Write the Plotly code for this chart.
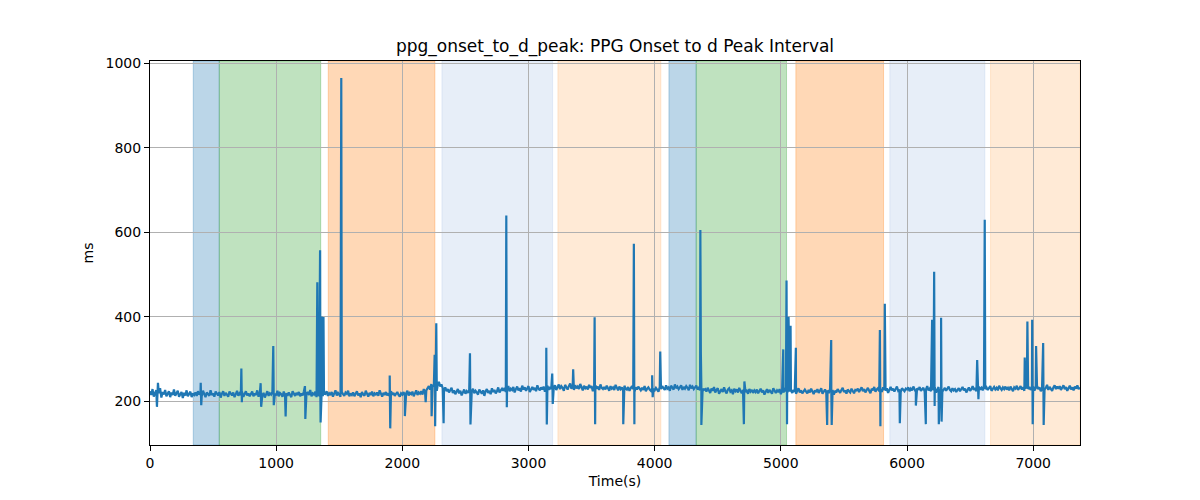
import plotly.graph_objects as go

# ---- data ----
base_step = 10  # seconds between baseline samples
base_v = [
    # 0-390
    224, 215, 229, 211, 220, 226, 213, 219, 231, 209,
    222, 216, 227, 212, 218, 224, 210, 221, 215, 228,
    213, 219, 225, 211, 217, 222, 208, 220, 214, 226,
    212, 218, 223, 210, 219, 215, 221, 213, 224, 216,
    # 400-790
    220, 212, 225, 216, 210, 221, 218, 213, 226, 215,
    219, 211, 223, 217, 214, 222, 209, 218, 224, 213,
    220, 216, 211, 223, 218, 214, 221, 210, 217, 225,
    213, 219, 215, 222, 211, 218, 224, 214, 219, 212,
    # 800-1190
    217, 223, 212, 219, 215, 226, 211, 218, 221, 214,
    220, 209, 217, 224, 213, 219, 216, 222, 210, 218,
    214, 225, 212, 220, 217, 211, 223, 215, 219, 213,
    221, 216, 210, 224, 218, 213, 220, 215, 222, 212,
    # 1200-1590
    219, 214, 224, 211, 218, 222, 215, 227, 212, 219,
    216, 223, 210, 220, 214, 225, 217, 212, 221, 218,
    224, 213, 219, 215, 222, 211, 218, 226, 214, 220,
    216, 211, 223, 217, 213, 221, 218, 225, 212, 219,
    # 1600-1990
    215, 221, 212, 218, 224, 214, 219, 210, 222, 216,
    213, 225, 218, 211, 220, 215, 223, 212, 219, 216,
    221, 213, 226, 217, 211, 220, 215, 222, 214, 219,
    212, 224, 216, 220, 213, 218, 222, 215, 211, 219,
    # 2000-2390
    216, 222, 213, 219, 225, 214, 220, 217, 223, 212,
    219, 226, 215, 221, 218, 224, 216, 229, 221, 226,
    230, 236, 228, 241, 234, 239, 244, 232, 238, 246,
    235, 240, 231, 226, 233, 224, 229, 221, 227, 232,
    # 2400-2790
    220, 226, 217, 223, 229, 219, 225, 214, 222, 228,
    218, 224, 220, 227, 215, 223, 230, 219, 225, 221,
    216, 228, 222, 218, 226, 213, 224, 229, 220, 225,
    217, 231, 222, 227, 219, 224, 233, 221, 226, 230,
    # 2800-3190
    225, 232, 222, 228, 236, 224, 230, 227, 234, 221,
    229, 235, 226, 231, 223, 237, 228, 233, 225, 230,
    236, 222, 229, 234, 227, 232, 224, 238, 230, 226,
    233, 228, 235, 223, 231, 237, 227, 234, 229, 236,
    # 3200-3590
    231, 238, 227, 234, 240, 229, 236, 232, 225, 239,
    233, 228, 236, 242, 230, 234, 227, 238, 231, 235,
    229, 241, 233, 226, 237, 231, 235, 228, 239, 232,
    236, 224, 233, 238, 230, 235, 227, 240, 232, 229,
    # 3600-3990
    234, 228, 237, 231, 225, 236, 230, 233, 227, 239,
    232, 226, 235, 229, 233, 224, 237, 230, 228, 234,
    225, 231, 236, 229, 222, 233, 228, 235, 230, 226,
    232, 227, 236, 224, 230, 233, 228, 225, 231, 229,
    # 4000-4390
    226, 232, 228, 223, 234, 229, 236, 231, 227, 238,
    230, 233, 225, 237, 232, 228, 240, 231, 235, 229,
    233, 238, 227, 234, 230, 236, 232, 226, 239, 231,
    235, 229, 233, 237, 228, 232, 226, 234, 230, 227,
    # 4400-4790
    229, 223, 232, 226, 220, 230, 225, 234, 221, 227,
    231, 218, 226, 229, 222, 233, 224, 219, 228, 231,
    223, 226, 217, 230, 224, 228, 221, 232, 225, 219,
    227, 230, 222, 225, 218, 229, 223, 227, 220, 226,
    # 4800-5190
    222, 228, 219, 225, 230, 221, 226, 216, 224, 229,
    220, 227, 223, 218, 231, 224, 220, 226, 222, 229,
    217, 225, 221, 228, 224, 219, 230, 223, 226, 220,
    227, 222, 218, 225, 231, 221, 226, 219, 224, 228,
    # 5200-5590
    223, 219, 227, 221, 230, 224, 217, 226, 222, 229,
    220, 225, 231, 218, 224, 228, 221, 226, 219, 230,
    223, 227, 216, 225, 221, 229, 224, 220, 227, 232,
    222, 226, 218, 228, 224, 221, 230, 225, 219, 227,
    # 5600-5990
    226, 230, 222, 228, 233, 224, 229, 221, 227, 232,
    225, 219, 230, 226, 234, 223, 228, 231, 224, 229,
    222, 233, 227, 225, 231, 220, 228, 234, 226, 230,
    223, 229, 235, 225, 228, 222, 231, 227, 224, 230,
    # 6000-6390
    228, 233, 224, 230, 226, 235, 229, 222, 231, 227,
    234, 225, 229, 232, 223, 228, 236, 226, 230, 224,
    231, 227, 233, 221, 229, 234, 226, 230, 223, 228,
    232, 225, 229, 235, 227, 224, 231, 226, 229, 222,
    # 6400-6790
    227, 231, 224, 229, 234, 226, 230, 221, 228, 233,
    225, 229, 236, 227, 231, 224, 230, 235, 228, 232,
    226, 238, 229, 233, 227, 231, 236, 225, 230, 234,
    228, 232, 226, 237, 231, 227, 233, 229, 235, 228,
    # 6800-7190
    232, 226, 235, 229, 224, 233, 230, 237, 227, 231,
    236, 228, 233, 225, 230, 238, 229, 234, 227, 232,
    235, 226, 231, 237, 229, 233, 224, 230, 236, 228,
    232, 239, 227, 234, 230, 225, 233, 238, 229, 235,
    # 7200-7370
    230, 236, 227, 233, 238, 229, 234, 225, 231, 237,
    228, 233, 226, 235, 230, 238, 229, 233,
]
base_t = [i * base_step for i in range(len(base_v))]

spike_t = [55, 63, 402, 406, 724, 728, 877, 881, 977, 981, 1075, 1228, 1231,
           1326, 1330, 1348, 1352, 1360, 1366, 1375, 1379, 1516, 1520,
           1900, 1904, 2020, 2185, 2232, 2256, 2260, 2269, 2273, 2327,
           2536, 2540, 2824, 2828, 3141, 3145, 3188, 3192, 3354, 3524, 3528,
           3751, 3835, 3839, 3980, 3984, 4044, 4362, 4366, 4370, 4707, 4711,
           5019, 5045, 5049, 5061, 5077, 5119, 5367, 5399, 5403,
           5782, 5785, 5789, 5820, 5824, 5943, 6070, 6149, 6199, 6215, 6219,
           6252, 6270, 6274, 6556, 6566, 6616, 6933, 6954, 6992, 6996,
           7023, 7079, 7083]
spike_v = [187, 244, 244, 191, 278, 198, 243, 187, 331, 191, 164, 236, 158,
           482, 215, 558, 150, 401, 230, 400, 215, 966, 222,
           261, 136, 165, 198, 165, 310, 141, 385, 225, 148,
           314, 145, 640, 186, 327, 145, 266, 194, 276, 399, 146,
           146, 573, 146, 262, 210, 318, 606, 314, 144, 146, 247,
           323, 486, 146, 400, 379, 327, 144, 345, 144,
           289, 369, 141, 298, 431, 148, 190, 146, 393, 507, 189,
           146, 398, 152, 298, 205, 630, 304, 389, 393, 146,
           331, 338, 144]

# stage shading: (start, end, colour)
span_start = [343, 549, 1413, 2314, 3233, 4113, 4329, 5119, 5864, 6662]
span_end = [549, 1353, 2258, 3191, 4049, 4329, 5045, 5814, 6617, 7371]
span_color = ["rgba(31,119,180,0.3)", "rgba(44,160,44,0.3)", "rgba(255,127,14,0.3)",
              "rgba(174,199,232,0.3)", "rgba(255,187,120,0.3)",
              "rgba(31,119,180,0.3)", "rgba(44,160,44,0.3)", "rgba(255,127,14,0.3)",
              "rgba(174,199,232,0.3)", "rgba(255,187,120,0.3)"]

x_ticks = [0, 1000, 2000, 3000, 4000, 5000, 6000, 7000]
y_ticks = [200, 400, 600, 800, 1000]

# merge baseline and spike samples in time order
pairs = sorted(zip(base_t + spike_t, base_v + spike_v), key=lambda p: p[0])
t_all = [p[0] for p in pairs]
v_all = [p[1] for p in pairs]

fig = go.Figure()
fig.add_trace(go.Scatter(x=t_all, y=v_all, mode="lines",
                         line=dict(color="#1f77b4", width=2.2), showlegend=False))

for s, e, c in zip(span_start, span_end, span_color):
    fig.add_vrect(x0=s, x1=e, fillcolor=c, line=dict(color=c, width=1), layer="below")

font = "DejaVu Sans, Verdana, sans-serif"
fig.update_layout(
    width=1200, height=500,
    margin=dict(l=150, r=120, t=61, b=55),
    paper_bgcolor="white", plot_bgcolor="white",
    font=dict(family=font, size=14, color="black"),
    title=dict(text="ppg_onset_to_d_peak: PPG Onset to d Peak Interval",
               x=0.5, xref="paper", xanchor="center",
               y=1 - 46 / 500, yref="container", yanchor="middle",
               font=dict(size=17, color="black")),
)
fig.update_xaxes(range=[0, 7371], tickvals=x_ticks, showgrid=True, gridcolor="#b0b0b0",
                 gridwidth=0.8, zeroline=False, showline=True, linecolor="black", linewidth=1,
                 mirror=True, ticks="outside", ticklen=5, tickcolor="black",
                 title=dict(text="Time(s)", standoff=6, font=dict(size=14)))
fig.update_yaxes(range=[96.6, 1006], tickvals=y_ticks, showgrid=True, gridcolor="#b0b0b0",
                 gridwidth=0.8, zeroline=False, showline=True, linecolor="black", linewidth=1,
                 mirror=True, ticks="outside", ticklen=5, tickcolor="black",
                 title=dict(text="ms", standoff=8, font=dict(size=14)))

fig.write_html("out.html", config={"displayModeBar": False},
               post_script="document.body.style.margin='0';")
